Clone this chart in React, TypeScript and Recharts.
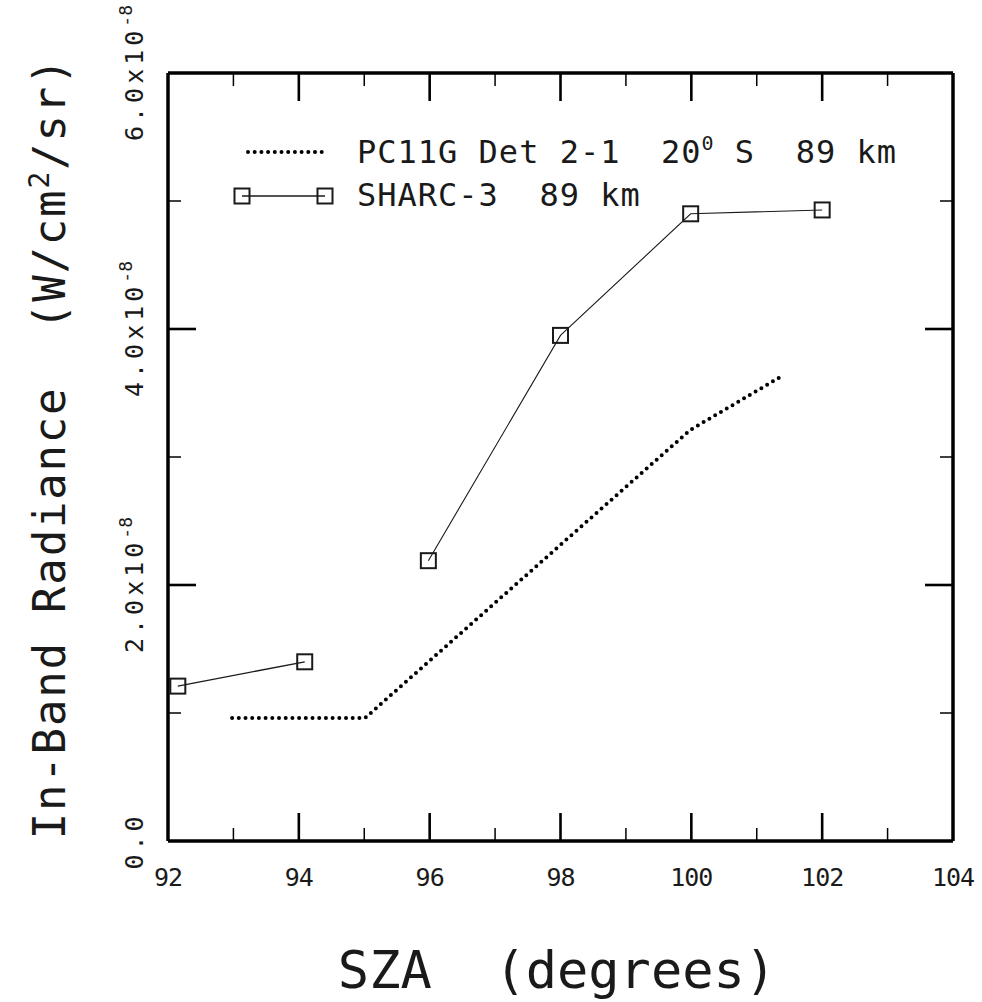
import React from "react";
import { LineChart, Line, XAxis, YAxis, Legend } from "recharts";

// SZA axis ticks (every degree, labels on even ones)
const xTicks = [92, 93, 94, 95, 96, 97, 98, 99, 100, 101, 102, 103, 104];
// radiance axis ticks, in units of 1e-8 W/cm2/sr
const yTicks = [0, 1, 2, 3, 4, 5, 6];
const yTickText: Record<number, string> = { 0: "0.0", 2: "2.0x10", 4: "4.0x10", 6: "6.0x10" };

// PC11G Det 2-1, 20 S, 89 km (model, dotted)
const pcSza = [92.98, 95.01, 99.98, 101.41];
const pcRad = [0.96, 0.96, 3.21, 3.64];

// SHARC-3 89 km (squares); no line between 2nd and 3rd point
const sharcSza = [92.15, 94.09, 95.98, 98.0, 99.99, 102.0];
const sharcRad = [1.21, 1.4, 2.19, 3.95, 4.9, 4.93];
const sharcBreak = 2;

const pcData = pcSza.map((sza, i) => ({ sza, rad: pcRad[i] }));
const sharcData = sharcSza.map((sza, i) => ({ sza, rad: sharcRad[i] }));
const sharcA = sharcData.slice(0, sharcBreak);
const sharcB = sharcData.slice(sharcBreak);

const FONT = "DejaVu Sans Mono, monospace";
const INK = "#1a1a1a";

const Square = (props: any) => {
  const { cx, cy } = props;
  if (cx == null || cy == null) return null;
  return <rect x={cx - 7.5} y={cy - 7.5} width={15} height={15} fill="none" stroke={INK} strokeWidth={2} />;
};

const tickLen = (v: number) => (v % 2 === 0 ? 28 : 13);
const tickW = (v: number) => (v % 2 === 0 ? 2.6 : 1.5);

const BottomTick = ({ x, y, payload }: any) => {
  const v = payload.value;
  const edge = v === 92 || v === 104;
  return (
    <g>
      {!edge && <line x1={x} x2={x} y1={y} y2={y - tickLen(v)} stroke="#000" strokeWidth={tickW(v)} />}
      {v % 2 === 0 && (
        <text x={x} y={y + 45} textAnchor="middle" fontFamily={FONT} fontSize={25} letterSpacing={-1} fill={INK}>
          {v}
        </text>
      )}
    </g>
  );
};

const TopTick = ({ x, y, payload }: any) => {
  const v = payload.value;
  if (v === 92 || v === 104) return <g />;
  return <line x1={x} x2={x} y1={y} y2={y + tickLen(v)} stroke="#000" strokeWidth={tickW(v)} />;
};

const LeftTick = ({ x, y, payload }: any) => {
  const v = payload.value;
  const edge = v === 0 || v === 6;
  const label = yTickText[v];
  const lx = 143;
  return (
    <g>
      {!edge && <line x1={x} x2={x + tickLen(v)} y1={y} y2={y} stroke="#000" strokeWidth={tickW(v)} />}
      {label && (
        <text
          transform={`rotate(-90, ${lx}, ${y})`}
          x={lx}
          y={y}
          textAnchor="middle"
          fontFamily={FONT}
          fontSize={25}
          letterSpacing={4}
          fill={INK}
        >
          {label}
          {v !== 0 && (
            <tspan fontSize={18} dy={-11} letterSpacing={0}>
              -8
            </tspan>
          )}
        </text>
      )}
    </g>
  );
};

const RightTick = ({ x, y, payload }: any) => {
  const v = payload.value;
  if (v === 0 || v === 6) return <g />;
  return <line x1={x} x2={x - tickLen(v)} y1={y} y2={y} stroke="#000" strokeWidth={tickW(v)} />;
};

const renderLegend = () => (
  <svg width={982} height={1002} style={{ position: "absolute", left: 0, top: 0, overflow: "visible" }}>
    <line x1={248} x2={322} y1={152} y2={152} stroke="#000" strokeWidth={4} strokeDasharray="0 6.7" strokeLinecap="round" />
    <line x1={242} x2={325} y1={196} y2={196} stroke={INK} strokeWidth={1.3} />
    <Square cx={242} cy={196} />
    <Square cx={325} cy={196} />
    <text x={357} y={163} fontFamily={FONT} fontSize={32} letterSpacing={1} fill={INK} style={{ whiteSpace: "pre" }}>
      {"PC11G Det 2-1  20"}
      <tspan fontSize={20} dy={-13}>0</tspan>
      <tspan dy={13}>{" S  89 km"}</tspan>
    </text>
    <text x={357} y={206} fontFamily={FONT} fontSize={32} letterSpacing={1} fill={INK} style={{ whiteSpace: "pre" }}>
      {"SHARC-3  89 km"}
    </text>
    {/* axis titles */}
    <text
      x={557}
      y={988}
      textAnchor="middle"
      fontFamily={FONT}
      fontSize={52}
      fill={INK}
      style={{ whiteSpace: "pre" }}
    >
      {"SZA  (degrees)"}
    </text>
    <text
      transform="rotate(-90, 65, 448)"
      x={65}
      y={448}
      textAnchor="middle"
      fontFamily={FONT}
      fontSize={44}
      letterSpacing={1.8}
      fill={INK}
      style={{ whiteSpace: "pre" }}
    >
      {"In-Band Radiance  (W/cm"}
      <tspan fontSize={28} dy={-16}>2</tspan>
      <tspan dy={16}>{"/sr)"}</tspan>
    </text>
  </svg>
);

export default function App() {
  const axisLine = { stroke: "#000", strokeWidth: 3.5 };
  return (
    <div style={{ position: "absolute", left: 0, top: 0, width: 982, height: 1002, background: "#fff" }}>
      <LineChart width={982} height={1002} margin={{ top: 72, right: 28, bottom: 160, left: 167 }}>
        <XAxis
          xAxisId="b"
          type="number"
          dataKey="sza"
          domain={[92, 104]}
          ticks={xTicks}
          interval={0}
          allowDataOverflow
          height={1}
          tickSize={0}
          tickMargin={0}
          axisLine={axisLine}
          tickLine={false}
          tick={(p: any) => <BottomTick {...p} />}
        />
        <XAxis
          xAxisId="t"
          orientation="top"
          type="number"
          dataKey="sza"
          domain={[92, 104]}
          ticks={xTicks}
          interval={0}
          allowDataOverflow
          height={1}
          tickSize={0}
          tickMargin={0}
          axisLine={axisLine}
          tickLine={false}
          tick={(p: any) => <TopTick {...p} />}
        />
        <YAxis
          yAxisId="l"
          type="number"
          domain={[0, 6]}
          ticks={yTicks}
          interval={0}
          allowDataOverflow
          width={1}
          tickSize={0}
          tickMargin={0}
          axisLine={axisLine}
          tickLine={false}
          tick={(p: any) => <LeftTick {...p} />}
        />
        <YAxis
          yAxisId="r"
          orientation="right"
          type="number"
          domain={[0, 6]}
          ticks={yTicks}
          interval={0}
          allowDataOverflow
          width={1}
          tickSize={0}
          tickMargin={0}
          axisLine={axisLine}
          tickLine={false}
          tick={(p: any) => <RightTick {...p} />}
        />
        <Legend
          layout="horizontal"
          verticalAlign="middle"
          align="center"
          content={renderLegend}
          wrapperStyle={{ left: 0, top: 0, width: 982, height: 1002, pointerEvents: "none" }}
        />
        <Line
          xAxisId="b"
          yAxisId="l"
          data={pcData}
          dataKey="rad"
          type="linear"
          stroke="#000"
          strokeWidth={4}
          strokeDasharray="0 6.7"
          strokeLinecap="round"
          dot={false}
          isAnimationActive={false}
        />
        <Line
          xAxisId="b"
          yAxisId="l"
          data={sharcA}
          dataKey="rad"
          type="linear"
          stroke={INK}
          strokeWidth={1.3}
          dot={(p: any) => <Square key={`a${p.index}`} {...p} />}
          isAnimationActive={false}
        />
        <Line
          xAxisId="b"
          yAxisId="l"
          data={sharcB}
          dataKey="rad"
          type="linear"
          stroke={INK}
          strokeWidth={1.1}
          dot={(p: any) => <Square key={`b${p.index}`} {...p} />}
          isAnimationActive={false}
        />
      </LineChart>
    </div>
  );
}
